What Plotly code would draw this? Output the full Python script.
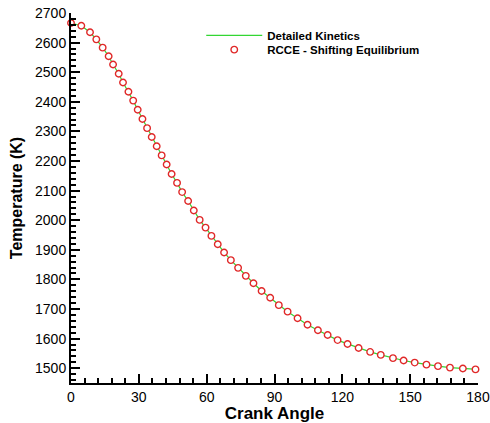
import plotly.graph_objects as go

# RCCE - Shifting Equilibrium (marker points)
crank_rcce = [0.0, 4.56, 8.41, 11.2, 14.0, 16.65, 18.6, 21.1, 23.0, 25.4, 27.5, 29.5, 31.6,
              33.65, 35.7, 37.9, 40.1, 42.3, 44.5, 46.9, 49.15, 51.8, 54.3, 56.9, 59.5, 62.1,
              64.9, 67.7, 70.7, 73.9, 77.3, 80.7, 84.3, 88.1, 91.9, 95.8, 100.2, 104.6, 109.2,
              113.5, 117.9, 122.3, 127.2, 132.3, 137.0, 142.4, 147.1, 152.0, 157.2, 162.3,
              167.6, 173.3, 178.9]
temp_rcce = [2666, 2657, 2635, 2611, 2583, 2554, 2526, 2495, 2465, 2434, 2404, 2373, 2342,
             2311, 2281, 2250, 2219, 2188, 2156, 2126, 2095, 2065, 2033, 2001, 1975, 1947,
             1919, 1891, 1865, 1839, 1812, 1787, 1761, 1738, 1713, 1691, 1669, 1647, 1628,
             1612, 1595, 1582, 1568, 1555, 1545, 1534, 1526, 1519, 1512, 1507,
             1502, 1499, 1496]

# Detailed Kinetics (line)
crank_dk = crank_rcce + [180.0]
temp_dk = temp_rcce + [1496]

x_ticks = [0, 30, 60, 90, 120, 150, 180]

font_family = "Liberation Sans, Arial, sans-serif"
legend_font = dict(family=font_family, size=11.5, color="black", weight="bold")

fig = go.Figure()
fig.add_trace(go.Scatter(
    x=crank_dk, y=temp_dk, mode="lines", name="Detailed Kinetics",
    line=dict(color="#33d633", width=1.2), legend="legend", showlegend=True,
))
fig.add_trace(go.Scatter(
    x=crank_rcce, y=temp_rcce, mode="markers", name="RCCE - Shifting Equilibrium",
    marker=dict(symbol="circle", size=6.5, color="white",
                line=dict(color="#e02828", width=1.4)),
    cliponaxis=False, legend="legend2", showlegend=True,
))

fig.update_layout(
    width=490, height=423,
    margin=dict(l=71, r=12, t=13, b=40),
    paper_bgcolor="white", plot_bgcolor="white",
    font=dict(family=font_family, color="black", size=13),
    showlegend=True,
    legend=dict(
        x=0.32, y=0.9397, xanchor="left", yanchor="middle", visible=True,
        bgcolor="rgba(0,0,0,0)", borderwidth=0, font=legend_font, itemwidth=56,
    ),
    legend2=dict(
        x=0.32, y=0.901, xanchor="left", yanchor="middle", visible=True,
        bgcolor="rgba(0,0,0,0)", borderwidth=0, font=legend_font, itemwidth=56,
    ),
)
fig.update_xaxes(
    range=[0, 180], tickvals=x_ticks, ticks="inside", ticklen=9, tickwidth=2,
    tickcolor="black", showline=True, linewidth=2, linecolor="black",
    showgrid=False, zeroline=False, automargin=False,
    minor=dict(dtick=6, ticks="inside", ticklen=5, tickwidth=1.5, tickcolor="black", showgrid=False),
    tickfont=dict(size=14),
    title=dict(text="<b>Crank Angle</b>", font=dict(size=17), standoff=0),
)
fig.update_yaxes(
    range=[1450, 2700], dtick=100, tick0=1500, ticks="inside", ticklen=9, tickwidth=2,
    tickcolor="black", showline=True, linewidth=2, linecolor="black",
    showgrid=False, zeroline=False, automargin=False,
    minor=dict(dtick=20, ticks="inside", ticklen=5, tickwidth=1.5, tickcolor="black", showgrid=False),
    tickfont=dict(size=14),
    title=dict(text="<b>Temperature (K)</b>", font=dict(size=16), standoff=8),
)

fig.write_html("out.html", config={"displayModeBar": False},
               post_script="document.body.style.margin='0px';")
